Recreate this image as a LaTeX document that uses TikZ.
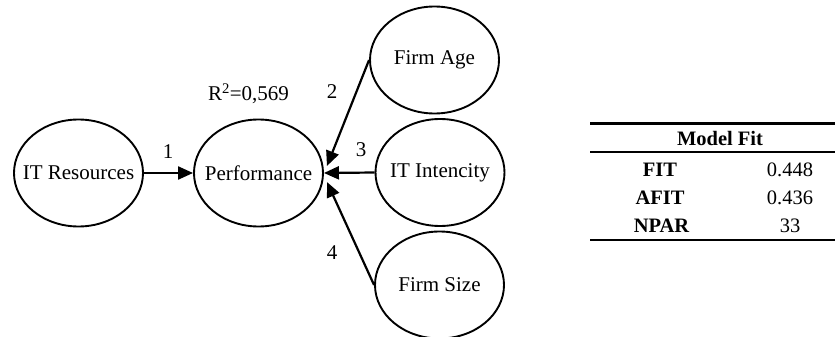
\documentclass[tikz,border=0pt]{standalone}
\usepackage{fontspec}
\setmainfont{Liberation Serif}
\usetikzlibrary{shapes.geometric,arrows.meta,calc}
\begin{document}
\begin{tikzpicture}[x=1pt,y=-1pt,
  latent/.style={ellipse,draw,line width=1.9pt,minimum width=129pt,minimum height=107pt,
    inner sep=0pt,font=\fontsize{21}{25}\selectfont},
  causal/.style={line width=2.2pt,-{Triangle[length=15pt,width=13pt]}},
  lbl/.style={font=\fontsize{21}{25}\selectfont,inner sep=0pt,anchor=base},
  cell/.style={font=\fontsize{20.5}{24}\selectfont,inner sep=0pt,anchor=base},
  head/.style={cell,font=\fontsize{20.5}{24}\selectfont\bfseries},
  toprule/.style={line width=2.8pt},
  midrule/.style={line width=2.3pt}]
\useasboundingbox (0,0) rectangle (835,337);

% latent variables (text boxed to zero width so the ellipse keeps its set size)
\newcommand\lv[1]{\makebox[0pt]{#1}}
\node[latent] (res)  at (78.5,173)  {\lv{IT Resources}};
\node[latent] (perf) at (258.5,173) {\lv{Performance}};
\node[latent] (age)  at (434.5,60)  {\lv{Firm Age}};
\node[latent] (int)  at (440,172.5) {\lv{IT Intencity}};
\node[latent] (size) at (439.5,285) {\lv{Firm Size}};

% arrow tips meeting at the right side of Performance
\coordinate (tip2) at ($(perf.east)+(3,-7)$);
\coordinate (tip4) at ($(perf.east)+(3,9)$);

% structural paths
\draw[causal] (res.east) -- (perf.west);
\draw[causal] (age.west) -- (tip2);
\draw[causal] (int.west) -- (perf.east);
\draw[causal] (size.west) -- (tip4);

% path numbers and explained variance
\node[lbl] (n1) at (168,158.3) {1};
\node[lbl] (n2) at (332,98.3) {2};
\node[lbl] (n3) at (361,156.7) {3};
\node[lbl] (n4) at (332,259.3) {4};
\node[lbl] (r2) at (248.5,100.7) {R\textsuperscript{2}=0,569};

% model fit table
\draw[toprule] (590,123.3) -- (835,123.3);
\draw[midrule] (590,152.3) -- (835,152.3);
\draw[toprule] (590,240) -- (835,240);
\node[head] (mf) at (720,145) {Model Fit};
\node[head] (fit)  at (660,176)   {FIT};
\node[head] (afit) at (660,204.3) {AFIT};
\node[head] (npar) at (661.5,232) {NPAR};
\node[cell] (vfit)  at (790,176)   {0.448};
\node[cell] (vafit) at (790,204.3) {0.436};
\node[cell] (vnpar) at (790,232)   {33};
\end{tikzpicture}
\end{document}
